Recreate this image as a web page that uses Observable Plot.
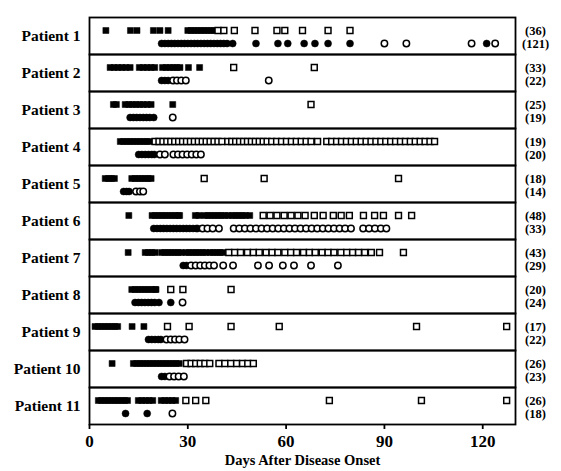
<!DOCTYPE html>
<html>
<head>
<meta charset="utf-8">
<script src="https://cdn.jsdelivr.net/npm/d3@7"></script>
<script src="https://cdn.jsdelivr.net/npm/@observablehq/plot@0.6"></script>
<style>
  html, body { margin: 0; padding: 0; background: #fff; }
</style>
</head>
<body>
<div id="chart"></div>
<script>
const patients = ["Patient 1","Patient 2","Patient 3","Patient 4","Patient 5","Patient 6","Patient 7","Patient 8","Patient 9","Patient 10","Patient 11"];
const xTicks = [0, 30, 60, 90, 120];

// squares, filled (days after onset), one list per patient
const squaresFilled = [
  [5, 12.5, 14.5, 19.5, 21.5, 24, 30, 31, 32, 33, 34, 35, 36, 37, 38],
  [6.3, 7.5, 8.7, 9.9, 11.1, 12.4, 15.2, 16.4, 17.6, 18.8, 19.9, 22.3, 23.4, 24.5, 25.6, 26.6, 27.6, 30.2, 33.6],
  [7.3, 8.2, 10.9, 12, 13.1, 14.2, 15.3, 16.4, 17.6, 18.8, 25.4],
  [9.4, 10.4, 11.4, 12.4, 13.4, 14.4, 15.4, 16.4, 17.4, 18.3],
  [4.8, 5.8, 6.7, 7.6, 12.9, 13.9, 14.9, 15.9, 16.9, 17.9, 18.8],
  [12, 19.1, 20.1, 21.1, 22.1, 23.1, 24.1, 25.1, 26.1, 27.1, 27.5, 32.3, 33.4, 35.2, 36.2, 37.2, 38.2, 39.2, 40.2, 41.2, 42.4, 43.6, 44.6, 45.6, 46.6, 47.6, 48.9],
  [11.8, 17, 18, 19, 20, 22, 23, 24, 25, 26, 27, 28, 29.5, 30.5, 31.5, 32.5, 33.5, 34.5, 35.5, 36.8, 37.8, 38.8, 39.8, 40.7],
  [12.9, 13.9, 14.9, 15.9, 16.9, 17.9, 18.9, 19.9, 20.3],
  [1.7, 2.7, 3.7, 4.7, 5.7, 6.7, 7.7, 8.6, 13, 16.6],
  [6.9, 13.4, 14.4, 15.4, 16.4, 17.4, 18.4, 19.4, 20.4, 21.4, 22.4, 23.4, 24.4, 25.4, 26.4, 27.4],
  [2.7, 3.7, 4.7, 5.7, 6.7, 7.7, 8.7, 9.7, 10.7, 11.6, 14.9, 16, 17.1, 18.2, 19.3, 21.9, 23, 24.1, 25.2, 26.3]
];
// squares, open
const squaresOpen = [
  [39.2, 41, 44.2, 50.5, 57.2, 59.6, 65, 72.8, 79.5],
  [44, 68.6],
  [67.6],
  [20, 21.2, 22.4, 23.6, 24.8, 26, 27.2, 28.4, 29.6, 30.8, 32, 33.2, 34.4, 35.6, 36.8, 38, 39.2, 40.4, 42.2, 43.4, 44.6, 45.8, 47, 48.2, 49.4, 50.6, 51.8, 53, 54.2, 55.6, 57.1, 58.6, 60.1, 61.6, 63.1, 64.6, 66.1, 67.6, 69.6, 72.4, 73.9, 75.4, 76.9, 78.4, 79.9, 81.4, 82.9, 84.4, 85.9, 87.4, 88.9, 90.4, 91.9, 93.4, 94.9, 96.4, 97.9, 99.4, 100.9, 102.4, 103.9, 105.3],
  [35, 53.3, 94.3],
  [53, 55.1, 57.2, 59.4, 61.5, 63.6, 65.8, 68.6, 71.3, 74.4, 76.8, 79.3, 83.6, 87, 89.7, 94.3, 98.3],
  [42.5, 44.3, 46.1, 48.2, 50, 51.8, 53.9, 55.7, 57.5, 59.6, 61.4, 63.2, 65.3, 67.1, 68.9, 71, 72.8, 74.6, 76.7, 78.5, 80.3, 82.1, 84, 86, 88.5, 95.8],
  [24.8, 28.5, 43.2],
  [23.8, 30.4, 43.2, 57.9, 99.8, 127.3],
  [29.6, 31, 32.4, 33.8, 35.2, 36.7, 39.5, 41.3, 43.1, 44.9, 46.7, 48.3, 50],
  [29.4, 32.4, 35.5, 73.2, 101.3, 127.3]
];
// circles, filled
const circlesFilled = [
  [22, 23, 24, 25, 26, 27, 28, 29, 30, 31, 32, 33, 34, 35, 36, 37, 38, 39, 40, 41, 42, 43.7, 50.8, 57.5, 60.5, 65.5, 68.8, 72.8, 79.5, 121.2],
  [22, 23, 24],
  [12.4, 13.4, 14.4, 15.4, 16.4, 17.4, 18.4, 19.6],
  [15, 16, 17, 18, 19, 19.8],
  [10.4, 11.3, 12.1],
  [19.6, 20.6, 21.6, 22.6, 23.6, 24.6, 25.6, 26.6, 27.6, 28.6, 29.6, 30.6, 31.6, 32.6, 33],
  [28.6, 29.6],
  [13.9, 14.9, 15.9, 16.9, 17.9, 18.9, 19.9, 21.2, 24.8],
  [18, 19, 20, 21, 21.8],
  [22, 23],
  [11, 17.6]
];
// circles, open
const circlesOpen = [
  [90, 96.7, 116.6, 123.8],
  [25.5, 26.7, 28, 29.4, 54.7],
  [25.4],
  [21.5, 23, 25.6, 27, 28.4, 29.8, 31.2, 32.6, 34],
  [14.2, 15.4, 16.4],
  [34.5, 36, 37.6, 39.5, 44, 45.7, 47.4, 49.1, 50.8, 52.5, 54.2, 55.9, 57.6, 59.3, 61, 62.7, 64.4, 66.1, 67.8, 69.5, 71.2, 72.9, 74.6, 76.3, 78, 79.8, 83.5, 85.3, 87.1, 88.9, 90.6],
  [31, 32.4, 33.8, 35.2, 36.6, 38, 40.8, 43.8, 51.4, 54.8, 59, 62.4, 67.6, 75.8],
  [28.4],
  [23.5, 24.8, 26.1, 27.4, 29],
  [24.4, 25.8, 27.2, 28.8],
  [25.3]
];
// counts printed at right: (squares), (circles)
const squareCounts = [36, 33, 25, 19, 18, 48, 43, 20, 17, 26, 26];
const circleCounts = [121, 22, 19, 20, 14, 33, 29, 24, 22, 23, 18];

function rows(lists, row) {
  const out = [];
  lists.forEach((days, i) => days.forEach(d => out.push({patient: patients[i], row, day: d})));
  return out;
}
const sqF = rows(squaresFilled, "sq");
const sqO = rows(squaresOpen, "sq");
const ciF = rows(circlesFilled, "ci");
const ciO = rows(circlesOpen, "ci");
const counts = [];
patients.forEach((p, i) => {
  counts.push({patient: p, row: "sq", label: `(${squareCounts[i]})`});
  counts.push({patient: p, row: "ci", label: `(${circleCounts[i]})`});
});

const chart = Plot.plot({
  width: 561,
  height: 471,
  marginLeft: 89,
  marginRight: 46,
  marginTop: 12,
  marginBottom: 43,
  style: {fontFamily: "'Liberation Serif', 'DejaVu Serif', serif", fontWeight: "bold", background: "white", color: "black"},
  x: {domain: [0, 130]},
  y: {type: "point", domain: ["sq", "ci"], padding: 0, insetTop: 12.5, insetBottom: 11.5, axis: null},
  fy: {domain: patients, padding: 0, axis: null, label: null},
  marks: [
    Plot.frame({stroke: "black", strokeWidth: 1.8}),
    Plot.axisFy({anchor: "left", tickSize: 0, tickPadding: 9, fontSize: 15.5, fontWeight: "bold", label: null}),
    Plot.axisX({ticks: xTicks, tickSize: 5, tickPadding: 5, fontSize: 17, fontWeight: "bold", strokeWidth: 1.8,
      label: "Days After Disease Onset", labelAnchor: "center", labelArrow: "none", labelOffset: 40}),
    Plot.dot(sqF, {x: "day", y: "row", fy: "patient", symbol: "square", r: 3.4, fill: "black", stroke: "black", strokeWidth: 0.5}),
    Plot.dot(sqO, {x: "day", y: "row", fy: "patient", symbol: "square", r: 3.3, fill: "white", stroke: "black", strokeWidth: 1.5}),
    Plot.dot(ciF, {x: "day", y: "row", fy: "patient", symbol: "circle", r: 3.5, fill: "black", stroke: "black", strokeWidth: 0.5}),
    Plot.dot(ciO, {x: "day", y: "row", fy: "patient", symbol: "circle", r: 3.2, fill: "white", stroke: "black", strokeWidth: 1.5}),
    Plot.text(counts, {fy: "patient", y: "row", text: "label", frameAnchor: "right", dx: 20, textAnchor: "middle", fontSize: 12.5, fontWeight: "bold", fill: "black"})
  ]
});
document.getElementById("chart").appendChild(chart);
// axis label size separate from tick labels
chart.querySelectorAll("text").forEach(t => {
  if (t.textContent === "Days After Disease Onset") t.setAttribute("font-size", "14.5");
});
</script>
</body>
</html>
